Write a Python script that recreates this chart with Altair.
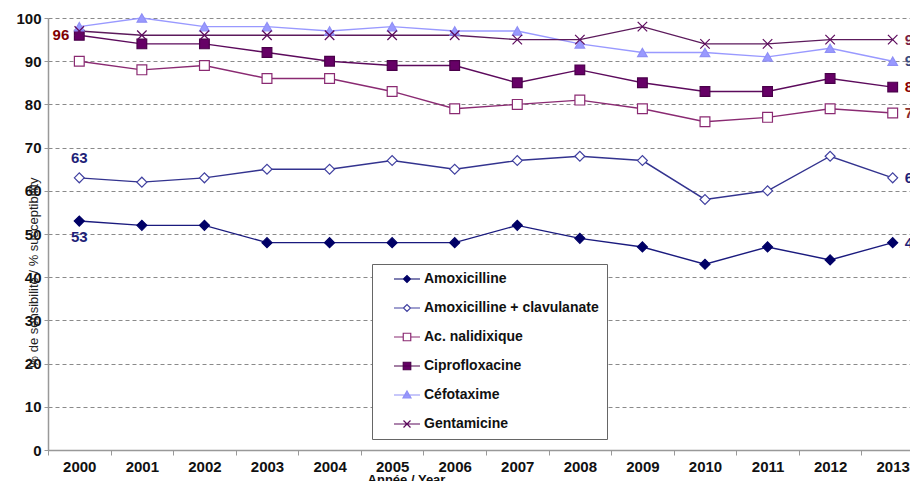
import altair as alt
import pandas as pd

years = list(range(2000, 2014))
series_names = ["Amoxicilline", "Amoxicilline + clavulanate", "Ac. nalidixique",
                "Ciprofloxacine", "Céfotaxime", "Gentamicine"]
amoxicilline = [53, 52, 52, 48, 48, 48, 48, 52, 49, 47, 43, 47, 44, 48]
amox_clav = [63, 62, 63, 65, 65, 67, 65, 67, 68, 67, 58, 60, 68, 63]
ac_nalidixique = [90, 88, 89, 86, 86, 83, 79, 80, 81, 79, 76, 77, 79, 78]
ciprofloxacine = [96, 94, 94, 92, 90, 89, 89, 85, 88, 85, 83, 83, 86, 84]
cefotaxime = [98, 100, 98, 98, 97, 98, 97, 97, 94, 92, 92, 91, 93, 90]
gentamicine = [97, 96, 96, 96, 96, 96, 96, 95, 95, 98, 94, 94, 95, 95]
y_ticks = list(range(0, 101, 10))

all_series = [amoxicilline, amox_clav, ac_nalidixique, ciprofloxacine, cefotaxime, gentamicine]
rows = []
for name, vals in zip(series_names, all_series):
    for yr, v in zip(years, vals):
        rows.append({"series": name, "year": yr, "value": v})
df = pd.DataFrame(rows)

# styles
FONT = "Liberation Sans"
line_colors = ["#1a1a7e", "#33338f", "#8a2a72", "#5c0a5c", "#9999ff", "#5c1a5c"]
stroke_colors = ["#000066", "#4040a0", "#8a2a72", "#4a004a", "#8f8ff5", "#5c0a5c"]
fill_colors = ["#000066", "#ffffff", "#ffffff", "#660066", "#9999ff", "#5c0a5c"]
plot_shapes = ["diamond", "diamond", "square", "square", "triangle-up",
               "M-1,-1L1,1M-1,1L1,-1"]
plot_sizes = [100, 90, 121, 121, 150, 110]
legend_shapes = [
    "M-2.6,0H2.6M-0.7,0L0,-0.7L0.7,0L0,0.7Z",
    "M-2.6,0H-0.7M0.7,0H2.6M-0.7,0L0,-0.7L0.7,0L0,0.7Z",
    "M-2.6,0H-0.75M0.75,0H2.6M-0.75,-0.75H0.75V0.75H-0.75Z",
    "M-2.6,0H2.6M-0.75,-0.75H0.75V0.75H-0.75Z",
    "M-2.6,0H2.6M0,-0.8L0.8,0.6H-0.8Z",
    "M-2.6,0H2.6M-0.7,-0.7L0.7,0.7M-0.7,0.7L0.7,-0.7",
]

STEP = 62.57
PLOT_W = 862
x_max = 1999.5 + PLOT_W / STEP

x_axis = alt.Axis(values=years, format="d", tickOffset=-STEP / 2, labelOffset=STEP / 2,
                  ticks=True, tickSize=5, tickColor="#999999", domainColor="#999999",
                  domainWidth=1.5, grid=False, labelFont=FONT, labelFontSize=15,
                  labelFontWeight="bold", labelColor="#111111", labelPadding=4,
                  labelFlush=False, labelOverlap=False, title="Année / Year",
                  titleFont=FONT, titleFontSize=13, titleFontWeight="bold",
                  titleColor="#111111", titleX=358, titleY=23, titleAlign="center",
                  titleBaseline="top")
y_axis = alt.Axis(values=y_ticks, grid=True, gridDash=[4, 3], gridColor="#8a8a8a",
                  gridWidth=1, domainColor="#999999", domainWidth=1.5,
                  tickColor="#999999", tickSize=4, labelFont=FONT, labelFontSize=15,
                  labelFontWeight="bold", labelColor="#111111", labelPadding=3,
                  title="% de sensibilité / % susceptibility", titleFont=FONT,
                  titleFontSize=13, titleFontWeight="normal", titleColor="#222222",
                  titleX=-15, titleY=254, titleAlign="center", titleBaseline="middle",
                  titleAngle=270)

X = alt.X("year:Q", scale=alt.Scale(domain=[1999.5, x_max], nice=False, zero=False),
          axis=x_axis)
Y = alt.Y("value:Q", scale=alt.Scale(domain=[0, 100], nice=False), axis=y_axis)

base = alt.Chart(df)

lines = base.mark_line(strokeWidth=1.4, clip=False).encode(
    x=X, y=Y,
    color=alt.Color("series:N", scale=alt.Scale(domain=series_names, range=line_colors),
                    legend=None),
    detail="series:N",
)

points = base.mark_point(opacity=1, fillOpacity=1, strokeWidth=1.2).encode(
    x=X, y=Y,
    shape=alt.Shape("series:N", scale=alt.Scale(domain=series_names, range=plot_shapes),
                    legend=None),
    stroke=alt.Stroke("series:N", scale=alt.Scale(domain=series_names, range=stroke_colors),
                      legend=None),
    fill=alt.Fill("series:N", scale=alt.Scale(domain=series_names, range=fill_colors),
                  legend=None),
    size=alt.Size("series:N", scale=alt.Scale(domain=series_names, range=plot_sizes),
                  legend=None),
)

leg = dict(orient="none", legendX=324, legendY=246, title=None, padding=8,
           strokeColor="#666666", fillColor="#ffffff", labelFont=FONT,
           labelFontSize=14, labelFontWeight="bold", labelColor="#111111",
           symbolOffset=20, labelOffset=10, rowPadding=15, symbolStrokeWidth=1.2,
           symbolSize=100, direction="vertical", columns=1, labelLimit=400)

legend_layer = base.transform_filter("false").mark_point(
    size=100, opacity=1, fillOpacity=1, strokeWidth=1.2).encode(
    x=X, y=Y,
    shape=alt.Shape("series:N", scale=alt.Scale(domain=series_names, range=legend_shapes),
                    legend=alt.Legend(**leg)),
    stroke=alt.Stroke("series:N", scale=alt.Scale(domain=series_names, range=stroke_colors),
                      legend=alt.Legend(**leg)),
    fill=alt.Fill("series:N", scale=alt.Scale(domain=series_names, range=fill_colors),
                  legend=alt.Legend(**leg)),
)

# value labels: (series, year, dx, dy, align, colour)
label_specs = [
    ("Ciprofloxacine", 2000, -10, 0, "right", "#800000"),
    ("Amoxicilline + clavulanate", 2000, 0, -20, "center", "#1f1f78"),
    ("Amoxicilline", 2000, 0, 16, "center", "#1f1f78"),
    ("Gentamicine", 2013, 12, 0, "left", "#7a1f45"),
    ("Céfotaxime", 2013, 12, 0, "left", "#3a4a7e"),
    ("Ciprofloxacine", 2013, 12, 0, "left", "#8b0000"),
    ("Ac. nalidixique", 2013, 12, 0, "left", "#8b2e2e"),
    ("Amoxicilline + clavulanate", 2013, 12, 0, "left", "#1f1f78"),
    ("Amoxicilline", 2013, 12, 0, "left", "#1f1f78"),
]
label_layers = []
for s, yr, dx, dy, al, col in label_specs:
    label_layers.append(
        base.transform_filter(
            (alt.datum.series == s) & (alt.datum.year == yr)
        ).mark_text(dx=dx, dy=dy, align=al, baseline="middle", font=FONT,
                    fontSize=15, fontWeight="bold", color=col).encode(
            x=X, y=Y, text=alt.Text("value:Q", format="d"))
    )

chart = alt.layer(lines, points, *label_layers, legend_layer).resolve_scale(
    shape="independent", stroke="independent", fill="independent"
).properties(
    width=PLOT_W, height=432,
    autosize=alt.AutoSizeParams(type="none"),
    padding={"left": 40, "top": 10, "right": 0, "bottom": 40},
    background="#ffffff",
).configure_view(stroke=None)

chart.save("out.html", embed_options={"renderer": "svg", "actions": False})
